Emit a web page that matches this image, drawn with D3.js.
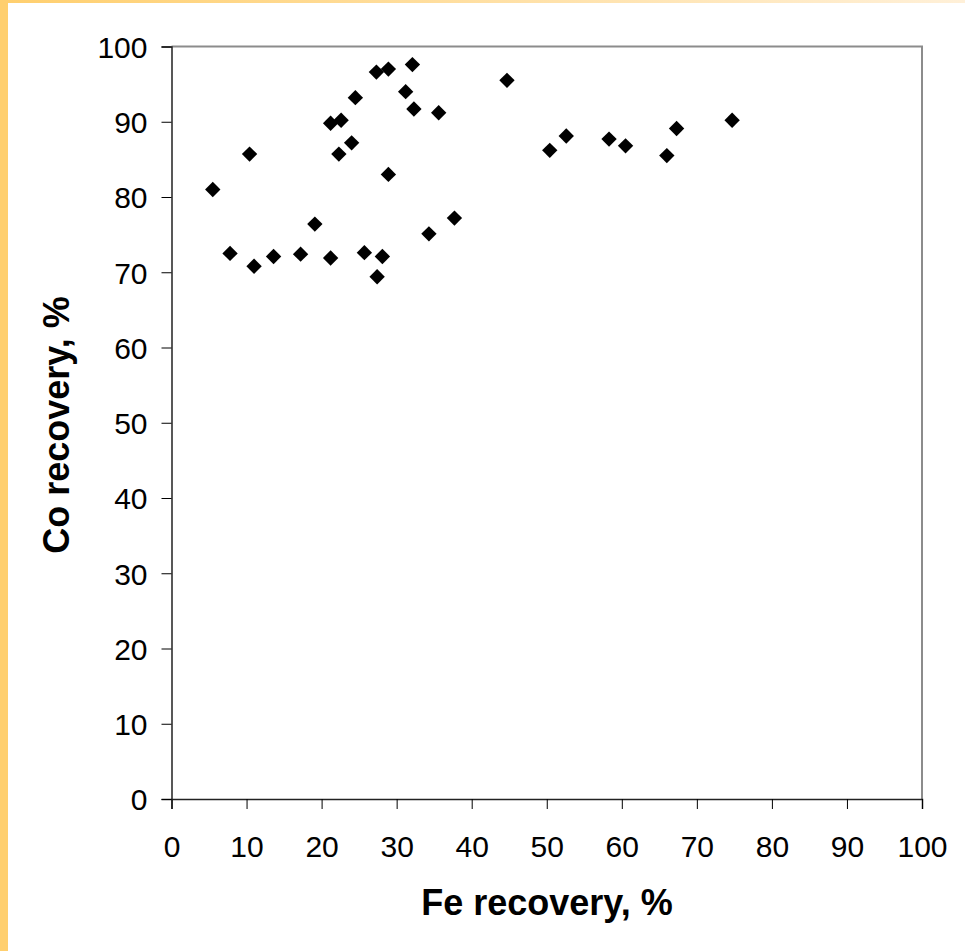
<!DOCTYPE html>
<html><head><meta charset="utf-8">
<script src="https://cdn.jsdelivr.net/npm/d3@7/dist/d3.min.js"></script>
<style>html,body{margin:0;padding:0;background:#fff;}svg{display:block;font-family:"Liberation Sans",Arial,sans-serif;}</style>
</head><body>
<svg id="c" width="965" height="951"></svg>
<script>
const feRecovery = [5.5,7.8,10.4,11.0,13.6,17.2,19.1,21.2,21.2,22.6,22.3,24.0,24.5,25.7,27.3,27.4,28.1,28.9,28.9,31.2,32.1,32.3,34.3,35.6,37.7,44.7,50.4,52.6,58.3,60.5,66.0,67.3,74.7];
const coRecovery = [81.0,72.5,85.7,70.8,72.1,72.4,76.4,71.9,89.8,90.2,85.7,87.2,93.2,72.6,96.6,69.4,72.1,97.0,83.0,94.0,97.6,91.7,75.1,91.2,77.2,95.5,86.2,88.1,87.7,86.8,85.5,89.1,90.2];
const xTicks = [0,10,20,30,40,50,60,70,80,90,100];
const yTicks = [0,10,20,30,40,50,60,70,80,90,100];
const xTitle = "Fe recovery, %";
const yTitle = "Co recovery, %";

const svg = d3.select("#c");
const defs = svg.append("defs");
const g = defs.append("linearGradient").attr("id","topg").attr("x1","0").attr("x2","1");
g.append("stop").attr("offset","0").attr("stop-color","#FFCF6E");
g.append("stop").attr("offset","1").attr("stop-color","#FFF0D8");
svg.append("rect").attr("x",0).attr("y",0).attr("width",965).attr("height",3).attr("fill","url(#topg)");
svg.append("rect").attr("x",0).attr("y",0).attr("width",8).attr("height",951).attr("fill","#FFCF6E");

const L=171.5, R=922, T=46.5, B=799;
const x = d3.scaleLinear().domain([0,100]).range([L,R]);
const y = d3.scaleLinear().domain([0,100]).range([B,T]);

svg.append("path").attr("d",`M${L},${T}H${R}V${B}`).attr("fill","none").attr("stroke","#8c8c8c").attr("stroke-width",2);

const xa = svg.append("g").attr("transform",`translate(0,${B})`)
  .call(d3.axisBottom(x).tickValues(xTicks).tickSize(10).tickPadding(14).tickFormat(d3.format("d")));
const ya = svg.append("g").attr("transform",`translate(${L},0)`)
  .call(d3.axisLeft(y).tickValues(yTicks).tickSize(10).tickPadding(14).tickFormat(d3.format("d")));
[xa,ya].forEach(a=>{
  a.attr("font-size",null).attr("font-family",null);
  a.selectAll("text").attr("font-size",30).attr("fill","#000");
  a.selectAll("line").attr("stroke","#000");
  a.select(".domain").attr("stroke","#222").attr("stroke-width",1.5);
});
xa.selectAll("text").attr("y",58).attr("dy",0);
ya.selectAll("text").attr("dy","0.36em");

svg.append("g").selectAll("path").data(feRecovery.map((v,i)=>[v,coRecovery[i]])).join("path")
  .attr("d",d3.symbol(d3.symbolSquare,118)).attr("transform",d=>`translate(${x(d[0])},${y(d[1])}) rotate(45)`)
  .attr("fill","#000");

svg.append("text").attr("x",547).attr("y",915).attr("text-anchor","middle")
  .attr("font-size",36).attr("font-weight","bold").text(xTitle);
svg.append("text").attr("transform","translate(69,425) rotate(-90)").attr("text-anchor","middle")
  .attr("font-size",36).attr("font-weight","bold").text(yTitle);
</script>
</body></html>
